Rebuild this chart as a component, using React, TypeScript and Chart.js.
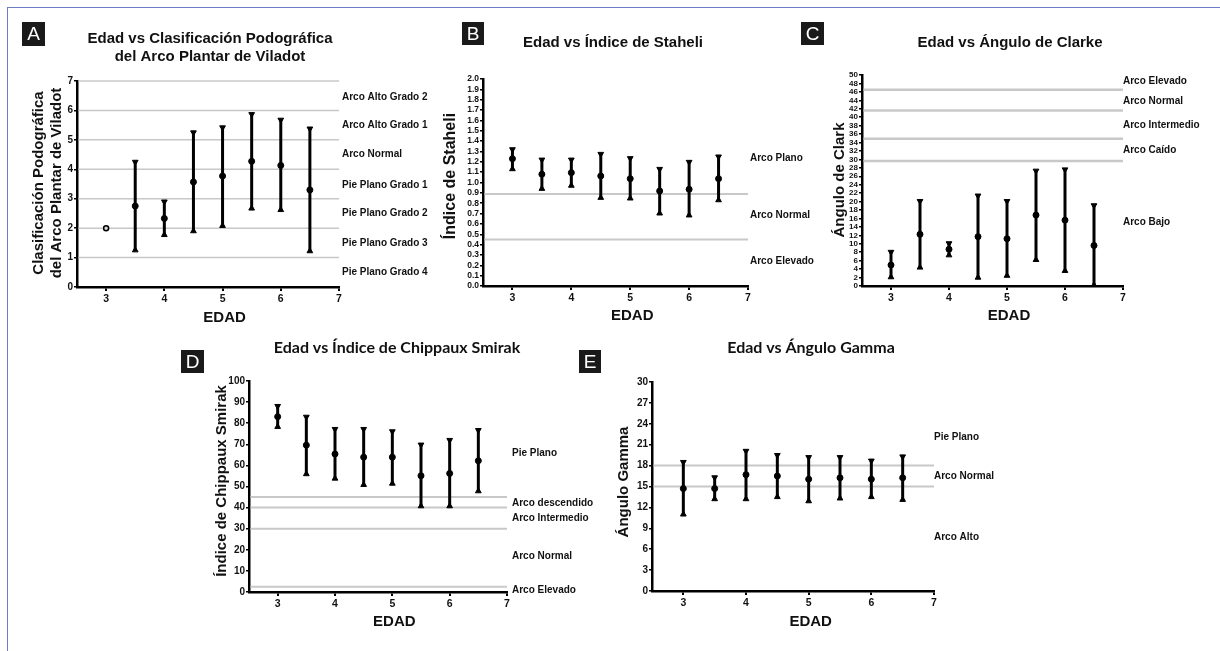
import React, { useEffect, useRef } from "react";
import { Chart, registerables } from "chart.js";

Chart.register(...registerables);

// ---------------- DATA ----------------
const AGES = [3, 3.5, 4, 4.5, 5, 5.5, 6, 6.5];
const X_TICKS = [3, 4, 5, 6, 7];
const X_TITLE = "EDAD";

// Panel A – Viladot
const A_MEAN = [2.0, 2.75, 2.33, 3.57, 3.77, 4.27, 4.13, 3.3];
const A_LOW = [2.0, 1.25, 1.77, 1.9, 2.08, 2.67, 2.62, 1.22];
const A_HIGH = [2.0, 4.25, 2.9, 5.25, 5.42, 5.87, 5.68, 5.38];
const A_Y_TICKS = [0, 1, 2, 3, 4, 5, 6, 7];
const A_LINES = [1, 2, 3, 4, 5, 6, 7];
const A_ZONES = ["Arco Alto Grado 2", "Arco Alto Grado 1", "Arco Normal", "Pie Plano Grado 1", "Pie Plano Grado 2", "Pie Plano Grado 3", "Pie Plano Grado 4"];
const A_ZONE_AT = [6.45, 5.5, 4.5, 3.45, 2.5, 1.5, 0.5];

// Panel B – Staheli
const B_MEAN = [1.23, 1.08, 1.095, 1.063, 1.037, 0.918, 0.934, 1.037];
const B_LOW = [1.13, 0.94, 0.97, 0.853, 0.847, 0.702, 0.683, 0.83];
const B_HIGH = [1.32, 1.22, 1.22, 1.275, 1.234, 1.13, 1.198, 1.25];
const B_Y_TICKS = [0, 0.1, 0.2, 0.3, 0.4, 0.5, 0.6, 0.7, 0.8, 0.9, 1.0, 1.1, 1.2, 1.3, 1.4, 1.5, 1.6, 1.7, 1.8, 1.9, 2.0];
const B_LINES = [0.89, 0.45];
const B_ZONES = ["Arco Plano", "Arco Normal", "Arco Elevado"];
const B_ZONE_AT = [1.23, 0.68, 0.24];

// Panel C – Clarke
const C_MEAN = [4.98, 12.25, 8.7, 11.7, 11.2, 16.8, 15.6, 9.6];
const C_LOW = [2.1, 4.4, 7.3, 2.0, 2.45, 6.2, 3.6, 0.2];
const C_HIGH = [8.06, 20.1, 10.1, 21.4, 20.1, 27.3, 27.6, 19.1];
const C_Y_TICKS = [0, 2, 4, 6, 8, 10, 12, 14, 16, 18, 20, 22, 24, 26, 28, 30, 32, 34, 36, 38, 40, 42, 44, 46, 48, 50];
const C_LINES = [46.5, 41.6, 34.9, 29.6];
const C_ZONES = ["Arco Elevado", "Arco Normal", "Arco Intermedio", "Arco Caído", "Arco Bajo"];
const C_ZONE_AT = [48.6, 43.8, 38.2, 32.2, 15.2];

// Panel D – Chippaux Smirak
const D_MEAN = [83.1, 69.6, 65.4, 63.9, 63.9, 55.1, 56.2, 62.2];
const D_LOW = [78.3, 55.9, 53.8, 50.8, 51.4, 40.7, 40.7, 47.8];
const D_HIGH = [88.1, 83.0, 77.2, 77.2, 76.1, 69.8, 72.0, 76.7];
const D_Y_TICKS = [0, 10, 20, 30, 40, 50, 60, 70, 80, 90, 100];
const D_LINES = [45, 40, 30, 2.5];
const D_ZONES = ["Pie Plano", "Arco descendido", "Arco Intermedio", "Arco Normal", "Arco Elevado"];
const D_ZONE_AT = [65.8, 42.1, 35, 16.9, 0.8];

// Panel E – Gamma
const E_MEAN = [14.7, 14.7, 16.7, 16.5, 16.05, 16.25, 16.05, 16.25];
const E_LOW = [11.0, 13.2, 13.2, 13.5, 12.9, 13.3, 13.5, 13.1];
const E_HIGH = [18.5, 16.3, 20.1, 19.5, 19.2, 19.2, 18.7, 19.3];
const E_Y_TICKS = [0, 3, 6, 9, 12, 15, 18, 21, 24, 27, 30];
const E_LINES = [18, 15];
const E_ZONES = ["Pie Plano", "Arco Normal", "Arco Alto"];
const E_ZONE_AT = [22.1, 16.4, 7.7];

// ---------------- LAYOUT / STYLE ----------------
const W = 1220;
const H = 651;
const ARIAL = "'Liberation Sans', Arial, Helvetica, sans-serif";
const HUMAN = "Lato, 'Open Sans', sans-serif";
const Y_AXIS_W = 30;
const X_AXIS_H = 22;

type Panel = {
  letter: string;
  box: [number, number, number, number];
  title: string[];
  titleAt: [number, number][];
  titleFont: string;
  titleSize: number;
  yTitle: string[];
  yTitleAt: [number, number][];
  yTitleSize: number;
  xTitleY: number;
  area: { l: number; r: number; t: number; b: number };
  yMax: number;
  yTicks: number[];
  yTickSize: number;
  yFmt: (v: number) => string;
  lines: number[];
  lineWidth: number;
  zones: string[];
  zoneAt: number[];
  zoneDx: number;
  mean: number[];
  low: number[];
  high: number[];
};

const PANELS: Panel[] = [
  {
    letter: "A", box: [22, 22, 23, 24],
    title: ["Edad vs Clasificación Podográfica", "del Arco Plantar de Viladot"],
    titleAt: [[210, 39], [210, 57]], titleFont: ARIAL, titleSize: 15,
    yTitle: ["Clasificación Podográfica", "del Arco Plantar de Viladot"],
    yTitleAt: [[39, 183], [57, 183]], yTitleSize: 15, xTitleY: 318,
    area: { l: 77, r: 339, t: 81, b: 287 }, yMax: 7, yTicks: A_Y_TICKS, yTickSize: 10,
    yFmt: (v) => String(v), lines: A_LINES, lineWidth: 1.5,
    zones: A_ZONES, zoneAt: A_ZONE_AT, zoneDx: 3,
    mean: A_MEAN, low: A_LOW, high: A_HIGH,
  },
  {
    letter: "B", box: [462, 22, 22, 23],
    title: ["Edad vs Índice de Staheli"], titleAt: [[613, 43]], titleFont: ARIAL, titleSize: 15,
    yTitle: ["Índice de Staheli"], yTitleAt: [[451, 176]], yTitleSize: 16, xTitleY: 316,
    area: { l: 483, r: 748, t: 79, b: 286 }, yMax: 2, yTicks: B_Y_TICKS, yTickSize: 8.5,
    yFmt: (v) => v.toFixed(1), lines: B_LINES, lineWidth: 2,
    zones: B_ZONES, zoneAt: B_ZONE_AT, zoneDx: 2,
    mean: B_MEAN, low: B_LOW, high: B_HIGH,
  },
  {
    letter: "C", box: [801, 22, 23, 23],
    title: ["Edad vs Ángulo de Clarke"], titleAt: [[1010, 43]], titleFont: ARIAL, titleSize: 15,
    yTitle: ["Ángulo de Clark"], yTitleAt: [[840, 180]], yTitleSize: 15, xTitleY: 316,
    area: { l: 862, r: 1123, t: 75, b: 286 }, yMax: 50, yTicks: C_Y_TICKS, yTickSize: 8,
    yFmt: (v) => String(v), lines: C_LINES, lineWidth: 2.5,
    zones: C_ZONES, zoneAt: C_ZONE_AT, zoneDx: 0,
    mean: C_MEAN, low: C_LOW, high: C_HIGH,
  },
  {
    letter: "D", box: [181, 350, 23, 23],
    title: ["Edad vs Índice de Chippaux Smirak"], titleAt: [[397, 348]], titleFont: HUMAN, titleSize: 16,
    yTitle: ["Índice de Chippaux Smirak"], yTitleAt: [[222, 481]], yTitleSize: 15, xTitleY: 622,
    area: { l: 249, r: 507, t: 381, b: 592 }, yMax: 100, yTicks: D_Y_TICKS, yTickSize: 10,
    yFmt: (v) => String(v), lines: D_LINES, lineWidth: 2,
    zones: D_ZONES, zoneAt: D_ZONE_AT, zoneDx: 5,
    mean: D_MEAN, low: D_LOW, high: D_HIGH,
  },
  {
    letter: "E", box: [579, 350, 22, 23],
    title: ["Edad vs Ángulo Gamma"], titleAt: [[811, 348]], titleFont: HUMAN, titleSize: 16,
    yTitle: ["Ángulo Gamma"], yTitleAt: [[624, 482]], yTitleSize: 15, xTitleY: 622,
    area: { l: 652, r: 934, t: 382, b: 591 }, yMax: 30, yTicks: E_Y_TICKS, yTickSize: 10,
    yFmt: (v) => String(v), lines: E_LINES, lineWidth: 2,
    zones: E_ZONES, zoneAt: E_ZONE_AT, zoneDx: 0,
    mean: E_MEAN, low: E_LOW, high: E_HIGH,
  },
];

// ---------------- PLUGIN ----------------
const decorPlugin = {
  id: "decor",
  beforeDatasetsDraw(chart: any) {
    const p: Panel = chart.options.plugins.decor.panel;
    const { ctx, chartArea } = chart;
    const ys = chart.scales.y;
    ctx.save();
    ctx.strokeStyle = "#c8c8c8";
    ctx.lineWidth = p.lineWidth;
    p.lines.forEach((v) => {
      const y = ys.getPixelForValue(v);
      ctx.beginPath();
      ctx.moveTo(chartArea.left + 1.5, y);
      ctx.lineTo(chartArea.right, y);
      ctx.stroke();
    });
    ctx.restore();
  },
  afterDraw(chart: any) {
    const p: Panel = chart.options.plugins.decor.panel;
    const { ctx, chartArea } = chart;
    const ys = chart.scales.y;
    const xs = chart.scales.x;
    ctx.save();
    const [bx, by, bw, bh] = p.box;
    ctx.fillStyle = "#1a1a1a";
    ctx.fillRect(bx, by, bw, bh);
    ctx.fillStyle = "#fff";
    ctx.font = `19px ${ARIAL}`;
    ctx.textAlign = "center";
    ctx.textBaseline = "middle";
    ctx.fillText(p.letter, bx + bw / 2, by + bh / 2 + 1);
    ctx.fillStyle = "#111";
    ctx.font = `bold ${p.titleSize}px ${p.titleFont}`;
    p.title.forEach((t, i) => ctx.fillText(t, p.titleAt[i][0], p.titleAt[i][1]));
    ctx.font = `bold ${p.yTitleSize}px ${ARIAL}`;
    p.yTitle.forEach((t, i) => {
      ctx.save();
      ctx.translate(p.yTitleAt[i][0], p.yTitleAt[i][1]);
      ctx.rotate(-Math.PI / 2);
      ctx.fillText(t, 0, 0);
      ctx.restore();
    });
    ctx.font = `bold 15px ${ARIAL}`;
    ctx.fillText(X_TITLE, xs.getPixelForValue(5) + 2, p.xTitleY);
    ctx.font = `bold 10px ${ARIAL}`;
    ctx.textAlign = "left";
    p.zones.forEach((z, i) => {
      ctx.fillText(z, chartArea.right + p.zoneDx, ys.getPixelForValue(p.zoneAt[i]));
    });
    ctx.restore();
  },
};

function buildConfig(p: Panel): any {
  const bars = AGES.map((x, i) => ({
    type: "line",
    data: [{ x, y: p.low[i] }, { x, y: p.high[i] }],
    showLine: true,
    borderColor: "#000",
    borderWidth: 3,
    pointRadius: 0,
    borderCapStyle: "butt",
  }));
  const capIdx = AGES.map((_, i) => i).filter((i) => p.low[i] !== p.high[i]);
  const capStyle = {
    type: "scatter",
    pointStyle: "triangle",
    pointRadius: 3.3,
    backgroundColor: "#000",
    borderColor: "#000",
    borderWidth: 1,
  };
  const topCaps = { ...capStyle, rotation: 180, data: capIdx.map((i) => ({ x: AGES[i], y: p.high[i] })) };
  const lowCaps = { ...capStyle, rotation: 0, data: capIdx.map((i) => ({ x: AGES[i], y: p.low[i] })) };
  const single = (c: any) => p.low[c.dataIndex] === p.high[c.dataIndex];
  const means = {
    type: "scatter",
    data: AGES.map((x, i) => ({ x, y: p.mean[i] })),
    pointStyle: "circle",
    pointRadius: (c: any) => (single(c) ? 2.5 : 3),
    backgroundColor: (c: any) => (single(c) ? "#d8d8d8" : "#000"),
    borderColor: "#000",
    borderWidth: (c: any) => (single(c) ? 1.5 : 1),
  };
  const a = p.area;
  return {
    type: "scatter",
    data: { datasets: [...bars, topCaps, lowCaps, means] },
    plugins: [decorPlugin],
    options: {
      responsive: false,
      animation: false,
      devicePixelRatio: 1,
      events: [],
      layout: {
        padding: {
          left: a.l - Y_AXIS_W,
          right: W - a.r,
          top: a.t,
          bottom: H - a.b - X_AXIS_H,
        },
      },
      plugins: {
        legend: { display: false },
        tooltip: { enabled: false },
        title: { display: false },
        decor: { panel: p },
      },
      scales: {
        x: {
          type: "linear",
          min: 2.5,
          max: 7,
          afterBuildTicks: (s: any) => {
            s.ticks = X_TICKS.map((v) => ({ value: v }));
          },
          afterFit: (s: any) => {
            s.height = X_AXIS_H;
          },
          ticks: {
            color: "#111",
            font: { family: ARIAL, size: 10.5, weight: "bold" },
            padding: 2,
            autoSkip: false,
            maxRotation: 0,
            callback: (v: any) => String(v),
          },
          grid: {
            display: true,
            drawOnChartArea: false,
            drawTicks: true,
            tickLength: 4,
            color: "#000",
            lineWidth: 2,
          },
          border: { display: true, color: "#000", width: 2.5 },
        },
        y: {
          type: "linear",
          min: 0,
          max: p.yMax,
          afterBuildTicks: (s: any) => {
            s.ticks = p.yTicks.map((v) => ({ value: v }));
          },
          afterFit: (s: any) => {
            s.width = Y_AXIS_W;
          },
          ticks: {
            color: "#111",
            font: { family: ARIAL, size: p.yTickSize, weight: "bold" },
            padding: 1,
            autoSkip: false,
            callback: (v: any) => p.yFmt(Number(v)),
          },
          grid: {
            display: true,
            drawOnChartArea: false,
            drawTicks: true,
            tickLength: 3,
            color: "#000",
            lineWidth: 1.5,
          },
          border: { display: true, color: "#000", width: 2.5 },
        },
      },
    },
  };
}

export default function App() {
  const refs = useRef<(HTMLCanvasElement | null)[]>([]);
  useEffect(() => {
    const charts = PANELS.map((p, i) => new Chart(refs.current[i] as HTMLCanvasElement, buildConfig(p)));
    return () => charts.forEach((c) => c.destroy());
  }, []);
  return (
    <div style={{ position: "fixed", left: 0, top: 0, width: W, height: H, background: "#fff", overflow: "hidden" }}>
      <div
        style={{
          position: "absolute",
          left: 7,
          top: 7,
          width: W,
          height: H,
          borderTop: "1.5px solid #6f7ec4",
          borderLeft: "1.5px solid #6f7ec4",
        }}
      />
      {PANELS.map((p, i) => (
        <canvas
          key={p.letter}
          ref={(el) => {
            refs.current[i] = el;
          }}
          width={W}
          height={H}
          style={{ position: "absolute", left: 0, top: 0, width: W, height: H }}
        />
      ))}
    </div>
  );
}
